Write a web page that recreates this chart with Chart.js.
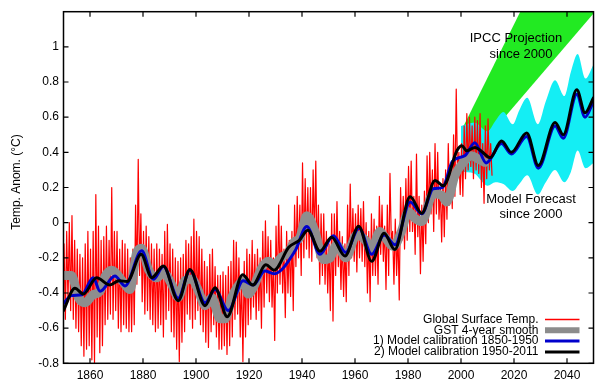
<!DOCTYPE html>
<html><head><meta charset="utf-8">
<script src="https://cdn.jsdelivr.net/npm/chart.js@4"></script>
<style>html,body{margin:0;padding:0;background:#fff}canvas{display:block}</style>
</head><body>
<canvas id="c" width="600" height="382"></canvas>
<script>
// ---- axis ticks ----
const xTickValues = [1860,1880,1900,1920,1940,1960,1980,2000,2020,2040];
const yTickValues = [-0.8,-0.6,-0.4,-0.2,0,0.2,0.4,0.6,0.8,1.0];
const yTickLabels = ['-0.8','-0.6','-0.4','-0.2','0','0.2','0.4','0.6','0.8','1'];

// ---- Global Surface Temp. (monthly record summarised as yearly upper / lower spikes) ----
const redFirstYear = 1850;
const redHigh = [
 -0.12,-0.05,0.00,0.04,-0.10,-0.15,-0.18,-0.20,-0.12,-0.05,
 -0.15,-0.05,0.16,-0.02,-0.10,-0.08,-0.02,-0.10,0.20,-0.05,
 -0.05,-0.15,-0.10,-0.12,-0.15,-0.20,-0.15,0.10,0.36,0.05,
 -0.05,-0.02,-0.08,-0.12,-0.15,-0.12,-0.15,-0.18,-0.05,-0.01,
 -0.12,-0.15,-0.20,-0.22,-0.20,-0.18,-0.10,-0.12,-0.08,0.02,
 -0.05,-0.08,-0.15,-0.22,-0.25,-0.18,-0.15,-0.25,-0.30,-0.30,
 -0.28,-0.30,-0.25,-0.22,-0.10,-0.11,-0.20,-0.30,-0.22,-0.15,
 -0.18,-0.10,-0.18,-0.15,-0.20,-0.05,0.01,-0.08,-0.10,-0.20,
 -0.02,0.10,-0.02,-0.15,-0.05,-0.10,-0.05,0.10,0.15,0.10,
 0.34,0.25,0.20,0.20,0.30,0.35,0.10,0.05,0.05,-0.05,
 -0.12,0.05,0.05,0.12,-0.05,-0.08,-0.12,0.10,0.22,0.08,
 0.05,0.10,0.08,0.12,0.00,-0.05,0.05,0.02,-0.02,0.15,
 0.10,-0.02,0.10,0.28,-0.05,0.02,-0.05,0.20,0.15,0.25,
 0.32,0.35,0.15,0.39,0.15,0.10,0.18,0.38,0.40,0.30,
 0.45,0.40,0.20,0.25,0.30,0.45,0.30,0.50,0.76,0.40,
 0.45,0.55,0.62,0.60,0.55,0.60,0.58,0.62,0.45,0.55,
 0.59,0.45
];
const redLow = [
 -0.55,-0.45,-0.50,-0.55,-0.60,-0.62,-0.70,-0.76,-0.72,-0.70,
 -0.78,-0.80,-0.65,-0.74,-0.70,-0.58,-0.55,-0.52,-0.55,-0.50,
 -0.60,-0.62,-0.58,-0.60,-0.62,-0.62,-0.58,-0.35,-0.30,-0.45,
 -0.52,-0.50,-0.55,-0.58,-0.62,-0.60,-0.58,-0.65,-0.55,-0.50,
 -0.62,-0.65,-0.72,-0.79,-0.68,-0.62,-0.52,-0.55,-0.60,-0.55,
 -0.50,-0.58,-0.62,-0.68,-0.71,-0.62,-0.58,-0.65,-0.72,-0.72,
 -0.70,-0.75,-0.70,-0.65,-0.55,-0.52,-0.65,-0.79,-0.65,-0.58,
 -0.55,-0.48,-0.55,-0.50,-0.60,-0.48,-0.40,-0.45,-0.48,-0.67,
 -0.40,-0.35,-0.40,-0.54,-0.40,-0.42,-0.50,-0.25,-0.20,-0.30,
 -0.20,-0.15,-0.20,-0.22,-0.10,-0.20,-0.35,-0.30,-0.35,-0.40,
 -0.50,-0.56,-0.30,-0.25,-0.38,-0.42,-0.45,-0.30,-0.20,-0.22,
 -0.28,-0.20,-0.22,-0.25,-0.40,-0.45,-0.30,-0.30,-0.35,-0.18,
 -0.22,-0.38,-0.30,-0.10,-0.35,-0.30,-0.44,-0.10,-0.15,-0.10,
 -0.05,-0.05,-0.18,-0.08,-0.29,-0.22,-0.12,0.00,0.05,-0.05,
 0.05,0.02,-0.11,-0.08,0.02,0.10,0.08,0.15,0.25,0.16,
 0.15,0.25,0.30,0.32,0.25,0.30,0.28,0.20,0.11,0.25,
 0.30,0.27
];

// ---- GST 4-year smooth ----
const grayYears = [1850.5,1853,1855.6,1858.1,1861.2,1863.8,1865.7,1868.2,1870,1872.6,1875.1,1877.6,1879.5,1882,1885.2,1887.7,1890.8,1893.3,1895.8,1898.4,1900.9,1903.4,1905.9,1909.1,1911,1913.5,1915.4,1917.8,1919.7,1921.6,1924.8,1927.3,1929.5,1932,1934.8,1937,1939.2,1941.8,1944.9,1948,1950.6,1953.1,1956.5,1960.6,1964.4,1966,1969.4,1970.7,1974.5,1977.5,1980.1,1982.6,1985.2,1989.5,1992.7,1994.6,1997.7,2000.9,2004,2006.5,2009];
const grayVals  = [-0.30,-0.30,-0.425,-0.455,-0.41,-0.39,-0.305,-0.27,-0.29,-0.34,-0.38,-0.17,-0.145,-0.265,-0.313,-0.285,-0.35,-0.425,-0.33,-0.32,-0.387,-0.472,-0.425,-0.547,-0.547,-0.425,-0.37,-0.33,-0.406,-0.37,-0.257,-0.22,-0.24,-0.20,-0.17,-0.11,-0.085,0.04,-0.05,-0.21,-0.20,-0.125,-0.20,-0.07,-0.11,-0.16,-0.05,-0.07,-0.135,-0.05,0.062,0.025,0.006,0.165,0.156,0.118,0.268,0.343,0.38,0.362,0.343];

// ---- 1) Model calibration 1850-1950 ----
const blueYears = [1850,1853,1857,1861.2,1863.8,1869.4,1873.2,1879.5,1883.9,1887.7,1893.3,1897.7,1903.4,1907.2,1912.2,1917.8,1921.6,1926,1929.5,1937.4,1941.8,1946.8,1951.8,1956.5,1961.5,1966.3,1971,1975.1,1980.8,1985.2,1989.5,1993,1996.8,2001.4,2005.2,2009.5,2015.3,2019,2024.8,2029.2,2035.5,2038.6,2043.7,2046.8,2050];
const blueVals  = [-0.46,-0.415,-0.41,-0.313,-0.39,-0.303,-0.36,-0.16,-0.322,-0.25,-0.43,-0.27,-0.455,-0.38,-0.50,-0.33,-0.355,-0.275,-0.29,-0.16,-0.022,-0.18,-0.075,-0.17,-0.03,-0.18,-0.07,-0.125,0.118,0.05,0.193,0.20,0.35,0.38,0.455,0.34,0.45,0.39,0.49,0.31,0.55,0.48,0.73,0.60,0.69];

// ---- 2) Model calibration 1950-2011 ----
const blackYears = [1850,1854.3,1857.5,1862.5,1867.5,1871,1874,1879.3,1883.3,1887.7,1893.3,1897.7,1903.4,1907.2,1911.8,1917.6,1921.4,1926.4,1929.5,1935,1939,1942.2,1946.8,1951.2,1956.2,1961.4,1966.3,1971,1975,1980.8,1985.2,1990.2,1993.3,1998.5,2000.3,2002.2,2005.3,2007.8,2011,2015.3,2019,2024.8,2029.2,2035.5,2038.6,2043.7,2046.8,2050];
const blackVals  = [-0.50,-0.373,-0.406,-0.313,-0.354,-0.33,-0.335,-0.18,-0.313,-0.247,-0.444,-0.266,-0.472,-0.37,-0.535,-0.296,-0.355,-0.24,-0.27,-0.14,-0.10,-0.043,-0.163,-0.083,-0.19,-0.02,-0.22,-0.06,-0.153,0.147,0.053,0.24,0.21,0.41,0.437,0.409,0.428,0.405,0.37,0.465,0.40,0.51,0.325,0.57,0.50,0.756,0.625,0.71];

// ---- Model Forecast since 2000 (band) ----
const forecastYears = [2000,2005,2010,2013,2016,2019.5,2022,2025,2029,2032,2035.5,2039,2041.5,2044,2047,2050];
const forecastHigh  = [0.55,0.57,0.52,0.58,0.63,0.56,0.64,0.71,0.56,0.69,0.81,0.72,0.86,0.96,0.82,0.90];
const forecastLow   = [0.29,0.28,0.21,0.23,0.22,0.18,0.22,0.27,0.16,0.23,0.30,0.23,0.29,0.41,0.31,0.34];

// ---- IPCC Projection since 2000 (band) ----
const ipccYears = [2000,2050];
const ipccHigh  = [0.52,2.04];
const ipccLow   = [0.31,1.19];

// ---- legend ----
const legendLabels = ['Global Surface Temp.','GST 4-year smooth','1) Model calibration 1850-1950','2) Model calibration 1950-2011'];

// ---- build library data ----
const pts = (xs, ys) => xs.map((x, i) => ({x: x, y: ys[i]}));
const redData = [];
redHigh.forEach((v, i) => {
  redData.push({x: redFirstYear + i + 0.2, y: v});
  redData.push({x: redFirstYear + i + 0.7, y: redLow[i]});
});

const FONT = 'Liberation Sans, Arial, Helvetica, sans-serif';

const decor = {
  id: 'decor',
  afterDraw(chart) {
    const {ctx, chartArea: a, scales} = chart;
    const xs = scales.x, ys = scales.y;
    ctx.save();
    ctx.strokeStyle = '#000';
    ctx.lineWidth = 1.5;
    ctx.strokeRect(a.left, a.top, a.right - a.left, a.bottom - a.top);
    ctx.lineWidth = 1.2;
    ctx.beginPath();
    xTickValues.forEach(v => {
      const p = xs.getPixelForValue(v);
      ctx.moveTo(p, a.bottom); ctx.lineTo(p, a.bottom - 5);
      ctx.moveTo(p, a.top); ctx.lineTo(p, a.top + 5);
    });
    yTickValues.forEach(v => {
      const p = ys.getPixelForValue(v);
      ctx.moveTo(a.left, p); ctx.lineTo(a.left + 5, p);
      ctx.moveTo(a.right, p); ctx.lineTo(a.right - 5, p);
    });
    ctx.stroke();

    // axis title
    ctx.fillStyle = '#000';
    ctx.font = '12px ' + FONT;
    ctx.textAlign = 'center';
    ctx.textBaseline = 'middle';
    ctx.save();
    ctx.translate(17, 182);
    ctx.rotate(-Math.PI / 2);
    ctx.fillText('Temp. Anom. (°C)', 0, 0);
    ctx.restore();

    // annotations
    ctx.font = '13px ' + FONT;
    ctx.textBaseline = 'alphabetic';
    ctx.fillText('IPCC Projection', 516, 42);
    ctx.fillText('since 2000', 521, 58);
    ctx.fillText('Model Forecast', 531, 203);
    ctx.fillText('since 2000', 531, 218);

    // legend
    ctx.font = '12px ' + FONT;
    ctx.textAlign = 'right';
    ctx.textBaseline = 'middle';
    const rows = [319.5, 330.3, 341.1, 351.9];
    const styles = [
      {c: '#ff0000', w: 1.5},
      {c: '#8c8c8c', w: 6},
      {c: '#0000cc', w: 3},
      {c: '#000000', w: 3}
    ];
    legendLabels.forEach((t, i) => {
      ctx.fillStyle = '#000';
      ctx.fillText(t, 538.5, rows[i]);
      ctx.beginPath();
      ctx.strokeStyle = styles[i].c;
      ctx.lineWidth = styles[i].w;
      ctx.moveTo(545, rows[i]); ctx.lineTo(579.5, rows[i]);
      ctx.stroke();
    });
    ctx.restore();
  }
};

new Chart(document.getElementById('c'), {
  type: 'line',
  data: {
    datasets: [
      {data: pts(blackYears, blackVals), borderColor: '#000000', borderWidth: 3, cubicInterpolationMode: 'monotone', order: 0},
      {data: pts(blueYears, blueVals), borderColor: '#0000cc', borderWidth: 3, cubicInterpolationMode: 'monotone', order: 1},
      {data: pts(grayYears, grayVals), borderColor: '#8e8e8e', borderWidth: 9, cubicInterpolationMode: 'monotone', order: 2},
      {data: redData, borderColor: '#ff0000', borderWidth: 1.2, tension: 0, order: 3},
      {data: pts(forecastYears, forecastHigh), borderWidth: 0, borderColor: 'rgba(0,0,0,0)', backgroundColor: '#14eef4', fill: '+1', cubicInterpolationMode: 'monotone', order: 4},
      {data: pts(forecastYears, forecastLow), borderWidth: 0, borderColor: 'rgba(0,0,0,0)', cubicInterpolationMode: 'monotone', order: 5},
      {data: pts(ipccYears, ipccHigh), borderWidth: 0, borderColor: 'rgba(0,0,0,0)', backgroundColor: '#22ea22', fill: '+1', order: 6},
      {data: pts(ipccYears, ipccLow), borderWidth: 0, borderColor: 'rgba(0,0,0,0)', order: 7}
    ]
  },
  options: {
    responsive: false,
    animation: false,
    devicePixelRatio: 1,
    elements: {point: {radius: 0}, line: {borderCapStyle: 'round', borderJoinStyle: 'round'}},
    layout: {padding: {left: 0, right: 6.5, top: 7.7, bottom: 0}},
    plugins: {legend: {display: false}, tooltip: {enabled: false}},
    scales: {
      x: {
        type: 'linear', min: 1850, max: 2050,
        grid: {display: false, drawTicks: false},
        border: {display: false},
        afterBuildTicks: s => { s.ticks = xTickValues.map(v => ({value: v})); },
        afterFit: s => { s.height = 18.7; },
        ticks: {color: '#000', font: {family: FONT, size: 12}, padding: 5, maxRotation: 0, autoSkip: false, callback: v => String(v)}
      },
      y: {
        type: 'linear', min: -0.8, max: 1.2,
        grid: {display: false, drawTicks: false},
        border: {display: false},
        afterBuildTicks: s => { s.ticks = yTickValues.map(v => ({value: v})); },
        afterFit: s => { s.width = 63.5; },
        ticks: {color: '#000', font: {family: FONT, size: 12}, padding: 4.5, autoSkip: false, callback: (v, i) => yTickLabels[i]}
      }
    }
  },
  plugins: [decor]
});
</script>
</body></html>
